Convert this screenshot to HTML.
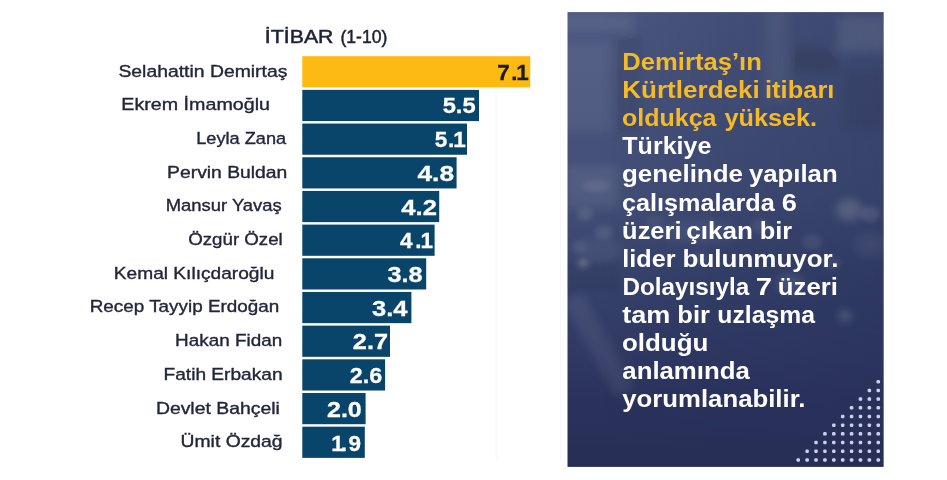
<!DOCTYPE html>
<html lang="tr"><head><meta charset="utf-8"><title>İtibar</title>
<style>
html,body{margin:0;padding:0;background:#fff;}
body{width:947px;height:480px;overflow:hidden;position:relative;font-family:"Liberation Sans",sans-serif;}
svg{position:absolute;left:0;top:0;display:block}
text{font-family:"Liberation Sans",sans-serif;}
.lbl{font-size:16.3px;fill:#22263a;stroke:#22263a;stroke-width:.35px}
.val{font-size:22.5px;font-weight:bold;fill:#fff}
.pan{font-size:23.3px;font-weight:bold}
.tit{font-size:18.8px;fill:#1f2336;stroke:#1f2336;stroke-width:.5px}
</style></head><body>
<svg width="947" height="480" viewBox="0 0 947 480">
<defs>
<linearGradient id="pg" x1="0" y1="0" x2="0" y2="1">
<stop offset="0" stop-color="#4b577f"/><stop offset="0.39" stop-color="#434f77"/><stop offset="0.65" stop-color="#343f69"/><stop offset="0.85" stop-color="#2b335d"/><stop offset="1" stop-color="#272e55"/>
</linearGradient>
<linearGradient id="hg" x1="0" y1="0" x2="1" y2="0">
<stop offset="0.1" stop-color="#141e46" stop-opacity="0"/><stop offset="0.5" stop-color="#141e46" stop-opacity=".15"/><stop offset="1" stop-color="#141e46" stop-opacity=".26"/>
</linearGradient>
<linearGradient id="vm" x1="0" y1="0" x2="0" y2="1">
<stop offset="0" stop-color="#fff"/><stop offset="0.6" stop-color="#fff"/><stop offset="0.95" stop-color="#000"/>
</linearGradient>
<mask id="mk" maskUnits="userSpaceOnUse" x="560" y="0" width="340" height="480"><rect x="567.3" y="12.1" width="316.5" height="454.8" fill="url(#vm)"/></mask>
<filter id="bl" x="-20%" y="-20%" width="140%" height="140%"><feGaussianBlur stdDeviation="5"/></filter>
<filter id="bs" x="-30%" y="-30%" width="160%" height="160%"><feGaussianBlur stdDeviation="2.5"/></filter>
<clipPath id="pc"><rect x="567.3" y="12.1" width="316.5" height="454.8"/></clipPath>
</defs>
<rect width="947" height="480" fill="#fff"/>
<rect x="495.6" y="88" width="1" height="372" fill="#f5f5f5"/>
<rect x="560" y="20" width="1" height="440" fill="#f8f8f8"/>

<text class="tit" transform="translate(264.83,42.5) scale(1.1340,1)">İTİBAR </text>
<text class="tit" transform="translate(340.48,42.5) scale(0.9359,1)">(1-10)</text>
<rect x="302.3" y="56.20" width="227.95" height="31.2" fill="#fdba12"/>
<rect x="302.3" y="89.88" width="176.70" height="31.2" fill="#09446a"/>
<rect x="302.3" y="123.56" width="164.70" height="31.2" fill="#09446a"/>
<rect x="302.3" y="157.24" width="154.30" height="31.2" fill="#09446a"/>
<rect x="302.3" y="190.92" width="136.90" height="31.2" fill="#09446a"/>
<rect x="302.3" y="224.60" width="132.30" height="31.2" fill="#09446a"/>
<rect x="302.3" y="258.28" width="123.90" height="31.2" fill="#09446a"/>
<rect x="302.3" y="291.96" width="109.10" height="31.2" fill="#09446a"/>
<rect x="302.3" y="325.64" width="87.70" height="31.2" fill="#09446a"/>
<rect x="302.3" y="359.32" width="82.80" height="31.2" fill="#09446a"/>
<rect x="302.3" y="393.00" width="63.30" height="31.2" fill="#09446a"/>
<rect x="302.3" y="426.68" width="62.50" height="31.2" fill="#09446a"/>
<text class="lbl" transform="translate(118.39,76.50) scale(1.1890,1)">Selahattin Demirtaş</text>
<text class="lbl" transform="translate(121.26,110.20) scale(1.2083,1)">Ekrem İmamoğlu</text>
<text class="lbl" transform="translate(196.18,143.90) scale(1.1160,1)">Leyla Zana</text>
<text class="lbl" transform="translate(167.09,177.60) scale(1.1853,1)">Pervin Buldan</text>
<text class="lbl" transform="translate(165.76,211.30) scale(1.1305,1)">Mansur Yavaş</text>
<text class="lbl" transform="translate(188.22,245.00) scale(1.1477,1)">Özgür Özel</text>
<text class="lbl" transform="translate(113.80,278.70) scale(1.1752,1)">Kemal Kılıçdaroğlu</text>
<text class="lbl" transform="translate(89.73,312.40) scale(1.1581,1)">Recep Tayyip Erdoğan</text>
<text class="lbl" transform="translate(175.12,346.10) scale(1.1592,1)">Hakan Fidan</text>
<text class="lbl" transform="translate(163.50,379.80) scale(1.1744,1)">Fatih Erbakan</text>
<text class="lbl" transform="translate(155.88,413.50) scale(1.1901,1)">Devlet Bahçeli</text>
<text class="lbl" transform="translate(180.59,447.20) scale(1.1864,1)">Ümit Özdağ</text>
<text class="val" style="fill:#1d1d1f;stroke:#1d1d1f;stroke-width:.3px" y="79.70"><tspan x="497.20">7</tspan><tspan x="511.19">.</tspan><tspan x="516.26">1</tspan></text>
<text class="val" style="fill:#fff;stroke:#fff;stroke-width:.3px" transform="translate(442.63,113.42) scale(1.0538,1)">5.5</text>
<text class="val" style="fill:#fff;stroke:#fff;stroke-width:.3px" y="147.14"><tspan x="434.65">5</tspan><tspan x="447.89">.</tspan><tspan x="453.26">1</tspan></text>
<text class="val" style="fill:#fff;stroke:#fff;stroke-width:.3px" transform="translate(417.50,180.86) scale(1.1687,1)">4.8</text>
<text class="val" style="fill:#fff;stroke:#fff;stroke-width:.3px" transform="translate(401.30,214.58) scale(1.1394,1)">4.2</text>
<text class="val" style="fill:#fff;stroke:#fff;stroke-width:.3px" y="248.30"><tspan x="400.00">4</tspan><tspan x="415.19">.</tspan><tspan x="420.46">1</tspan></text>
<text class="val" style="fill:#fff;stroke:#fff;stroke-width:.3px" transform="translate(387.41,282.02) scale(1.1230,1)">3.8</text>
<text class="val" style="fill:#fff;stroke:#fff;stroke-width:.3px" transform="translate(372.00,315.74) scale(1.1329,1)">3.4</text>
<text class="val" style="fill:#fff;stroke:#fff;stroke-width:.3px" transform="translate(352.81,349.46) scale(1.1260,1)">2.7</text>
<text class="val" style="fill:#fff;stroke:#fff;stroke-width:.3px" transform="translate(349.87,383.18) scale(1.0378,1)">2.6</text>
<text class="val" style="fill:#fff;stroke:#fff;stroke-width:.3px" transform="translate(326.97,416.90) scale(1.1125,1)">2.0</text>
<text class="val" style="fill:#fff;stroke:#fff;stroke-width:.3px" y="450.62"><tspan x="331.26">1</tspan><tspan x="340.79">.</tspan><tspan x="348.55">9</tspan></text>
<g clip-path="url(#pc)"><rect x="567.3" y="12.1" width="316.5" height="454.8" fill="url(#pg)"/><rect x="567.3" y="12.1" width="316.5" height="454.8" fill="url(#hg)" mask="url(#mk)"/>
<g filter="url(#bl)">
<rect x="560" y="15" width="74" height="16" fill="#fff" opacity=".08"/>
<rect x="560" y="42" width="50" height="90" fill="#fff" opacity=".06"/>
<rect x="613" y="34" width="28" height="100" fill="#000" opacity=".07"/>
<rect x="764" y="10" width="24" height="92" fill="#fff" opacity=".05"/>
<rect x="838" y="16" width="50" height="36" fill="#fff" opacity=".09"/>
<rect x="787" y="48" width="50" height="24" fill="#000" opacity=".11"/>
<rect x="845" y="70" width="40" height="60" fill="#000" opacity=".05"/>
<rect x="566" y="166" width="52" height="42" fill="#fff" opacity=".08"/>
<ellipse cx="849" cy="210" rx="13" ry="11" fill="#fff" opacity=".16"/>
<ellipse cx="790" cy="284" rx="14" ry="9" fill="#fff" opacity=".12"/>
<ellipse cx="700" cy="232" rx="40" ry="12" fill="#fff" opacity=".06"/>
<ellipse cx="600" cy="250" rx="22" ry="14" fill="#fff" opacity=".05"/>
<ellipse cx="870" cy="245" rx="16" ry="12" fill="#fff" opacity=".06"/>
<line x1="573" y1="298" x2="625" y2="392" stroke="#fff" stroke-width="22" opacity=".07"/>
<circle cx="845" cy="316" r="5" fill="#fff" opacity=".25"/>
</g><g filter="url(#bs)" fill="#fff">
<ellipse cx="585" cy="214" rx="8" ry="7" opacity=".10"/><ellipse cx="604" cy="232" rx="9" ry="7" opacity=".09"/>
<ellipse cx="579" cy="247" rx="8" ry="7" opacity=".07"/><ellipse cx="596" cy="186" rx="14" ry="6" opacity=".08"/>
<ellipse cx="760" cy="226" rx="9" ry="7" opacity=".07"/><ellipse cx="812" cy="242" rx="10" ry="8" opacity=".07"/>
<ellipse cx="832" cy="263" rx="9" ry="7" opacity=".06"/><ellipse cx="870" cy="214" rx="10" ry="8" opacity=".10"/>
<ellipse cx="700" cy="258" rx="10" ry="7" opacity=".06"/><ellipse cx="655" cy="222" rx="9" ry="7" opacity=".06"/>
<ellipse cx="583" cy="263" rx="5" ry="4" opacity=".22"/>
<rect x="567" y="262" width="50" height="30" fill="#000" opacity=".06"/>
</g>
</g>
<text class="pan" fill="#f6ba26" transform="translate(622.30,70.30) scale(1.1004,1)">Demirtaş’ın</text>
<text class="pan" fill="#f6ba26" transform="translate(622.27,98.35) scale(1.1184,1)">Kürtlerdeki </text><text class="pan" fill="#f6ba26" transform="translate(765.01,98.35) scale(1.0940,1)">itibarı</text>
<text class="pan" fill="#f6ba26" transform="translate(621.92,126.39) scale(1.0747,1)">oldukça </text><text class="pan" fill="#f6ba26" transform="translate(724.40,126.39) scale(1.0853,1)">yüksek.</text>
<text class="pan" fill="#ffffff" transform="translate(622.30,154.44) scale(1.0753,1)">Türkiye</text>
<text class="pan" fill="#ffffff" transform="translate(621.89,182.49) scale(1.1141,1)">genelinde </text><text class="pan" fill="#ffffff" transform="translate(748.90,182.49) scale(1.1053,1)">yapılan</text>
<text class="pan" fill="#ffffff" transform="translate(621.91,210.54) scale(1.0824,1)">çalışmalarda </text><text class="pan" fill="#ffffff" transform="translate(781.75,210.54) scale(1.1674,1)">6</text>
<text class="pan" fill="#ffffff" transform="translate(622.11,238.58) scale(1.0922,1)">üzeri </text><text class="pan" fill="#ffffff" transform="translate(686.28,238.58) scale(1.1208,1)">çıkan </text><text class="pan" fill="#ffffff" transform="translate(759.71,238.58) scale(1.0898,1)">bir</text>
<text class="pan" fill="#ffffff" transform="translate(622.32,266.63) scale(1.0840,1)">lider </text><text class="pan" fill="#ffffff" transform="translate(682.58,266.63) scale(1.1156,1)">bulunmuyor.</text>
<text class="pan" fill="#ffffff" transform="translate(622.38,294.68) scale(1.0429,1)">Dolayısıyla </text><text class="pan" fill="#ffffff" transform="translate(755.68,294.68) scale(1.2582,1)">7 </text><text class="pan" fill="#ffffff" transform="translate(777.79,294.68) scale(1.1057,1)">üzeri</text>
<text class="pan" fill="#ffffff" transform="translate(622.30,322.72) scale(1.1621,1)">tam </text><text class="pan" fill="#ffffff" transform="translate(677.30,322.72) scale(1.0969,1)">bir </text><text class="pan" fill="#ffffff" transform="translate(717.34,322.72) scale(1.0615,1)">uzlaşma</text>
<text class="pan" fill="#ffffff" transform="translate(621.89,350.77) scale(1.1138,1)">olduğu</text>
<text class="pan" fill="#ffffff" transform="translate(622.30,378.82) scale(1.1068,1)">anlamında</text>
<text class="pan" fill="#ffffff" transform="translate(622.30,406.86) scale(1.1049,1)">yorumlanabilir.</text>
<g fill="#cdcfee"><rect x="876.51" y="379.95" width="3.5" height="3.5" rx="1.2"/><rect x="867.62" y="388.64" width="3.5" height="3.5" rx="1.2"/><rect x="876.51" y="388.64" width="3.5" height="3.5" rx="1.2"/><rect x="858.73" y="397.33" width="3.5" height="3.5" rx="1.2"/><rect x="867.62" y="397.33" width="3.5" height="3.5" rx="1.2"/><rect x="876.51" y="397.33" width="3.5" height="3.5" rx="1.2"/><rect x="849.84" y="406.02" width="3.5" height="3.5" rx="1.2"/><rect x="858.73" y="406.02" width="3.5" height="3.5" rx="1.2"/><rect x="867.62" y="406.02" width="3.5" height="3.5" rx="1.2"/><rect x="876.51" y="406.02" width="3.5" height="3.5" rx="1.2"/><rect x="840.95" y="414.71" width="3.5" height="3.5" rx="1.2"/><rect x="849.84" y="414.71" width="3.5" height="3.5" rx="1.2"/><rect x="858.73" y="414.71" width="3.5" height="3.5" rx="1.2"/><rect x="867.62" y="414.71" width="3.5" height="3.5" rx="1.2"/><rect x="876.51" y="414.71" width="3.5" height="3.5" rx="1.2"/><rect x="832.06" y="423.40" width="3.5" height="3.5" rx="1.2"/><rect x="840.95" y="423.40" width="3.5" height="3.5" rx="1.2"/><rect x="849.84" y="423.40" width="3.5" height="3.5" rx="1.2"/><rect x="858.73" y="423.40" width="3.5" height="3.5" rx="1.2"/><rect x="867.62" y="423.40" width="3.5" height="3.5" rx="1.2"/><rect x="876.51" y="423.40" width="3.5" height="3.5" rx="1.2"/><rect x="823.17" y="432.09" width="3.5" height="3.5" rx="1.2"/><rect x="832.06" y="432.09" width="3.5" height="3.5" rx="1.2"/><rect x="840.95" y="432.09" width="3.5" height="3.5" rx="1.2"/><rect x="849.84" y="432.09" width="3.5" height="3.5" rx="1.2"/><rect x="858.73" y="432.09" width="3.5" height="3.5" rx="1.2"/><rect x="867.62" y="432.09" width="3.5" height="3.5" rx="1.2"/><rect x="876.51" y="432.09" width="3.5" height="3.5" rx="1.2"/><rect x="814.28" y="440.78" width="3.5" height="3.5" rx="1.2"/><rect x="823.17" y="440.78" width="3.5" height="3.5" rx="1.2"/><rect x="832.06" y="440.78" width="3.5" height="3.5" rx="1.2"/><rect x="840.95" y="440.78" width="3.5" height="3.5" rx="1.2"/><rect x="849.84" y="440.78" width="3.5" height="3.5" rx="1.2"/><rect x="858.73" y="440.78" width="3.5" height="3.5" rx="1.2"/><rect x="867.62" y="440.78" width="3.5" height="3.5" rx="1.2"/><rect x="876.51" y="440.78" width="3.5" height="3.5" rx="1.2"/><rect x="805.39" y="449.47" width="3.5" height="3.5" rx="1.2"/><rect x="814.28" y="449.47" width="3.5" height="3.5" rx="1.2"/><rect x="823.17" y="449.47" width="3.5" height="3.5" rx="1.2"/><rect x="832.06" y="449.47" width="3.5" height="3.5" rx="1.2"/><rect x="840.95" y="449.47" width="3.5" height="3.5" rx="1.2"/><rect x="849.84" y="449.47" width="3.5" height="3.5" rx="1.2"/><rect x="858.73" y="449.47" width="3.5" height="3.5" rx="1.2"/><rect x="867.62" y="449.47" width="3.5" height="3.5" rx="1.2"/><rect x="876.51" y="449.47" width="3.5" height="3.5" rx="1.2"/><rect x="796.50" y="458.16" width="3.5" height="3.5" rx="1.2"/><rect x="805.39" y="458.16" width="3.5" height="3.5" rx="1.2"/><rect x="814.28" y="458.16" width="3.5" height="3.5" rx="1.2"/><rect x="823.17" y="458.16" width="3.5" height="3.5" rx="1.2"/><rect x="832.06" y="458.16" width="3.5" height="3.5" rx="1.2"/><rect x="840.95" y="458.16" width="3.5" height="3.5" rx="1.2"/><rect x="849.84" y="458.16" width="3.5" height="3.5" rx="1.2"/><rect x="858.73" y="458.16" width="3.5" height="3.5" rx="1.2"/><rect x="867.62" y="458.16" width="3.5" height="3.5" rx="1.2"/><rect x="876.51" y="458.16" width="3.5" height="3.5" rx="1.2"/></g>
</svg>
</body></html>
